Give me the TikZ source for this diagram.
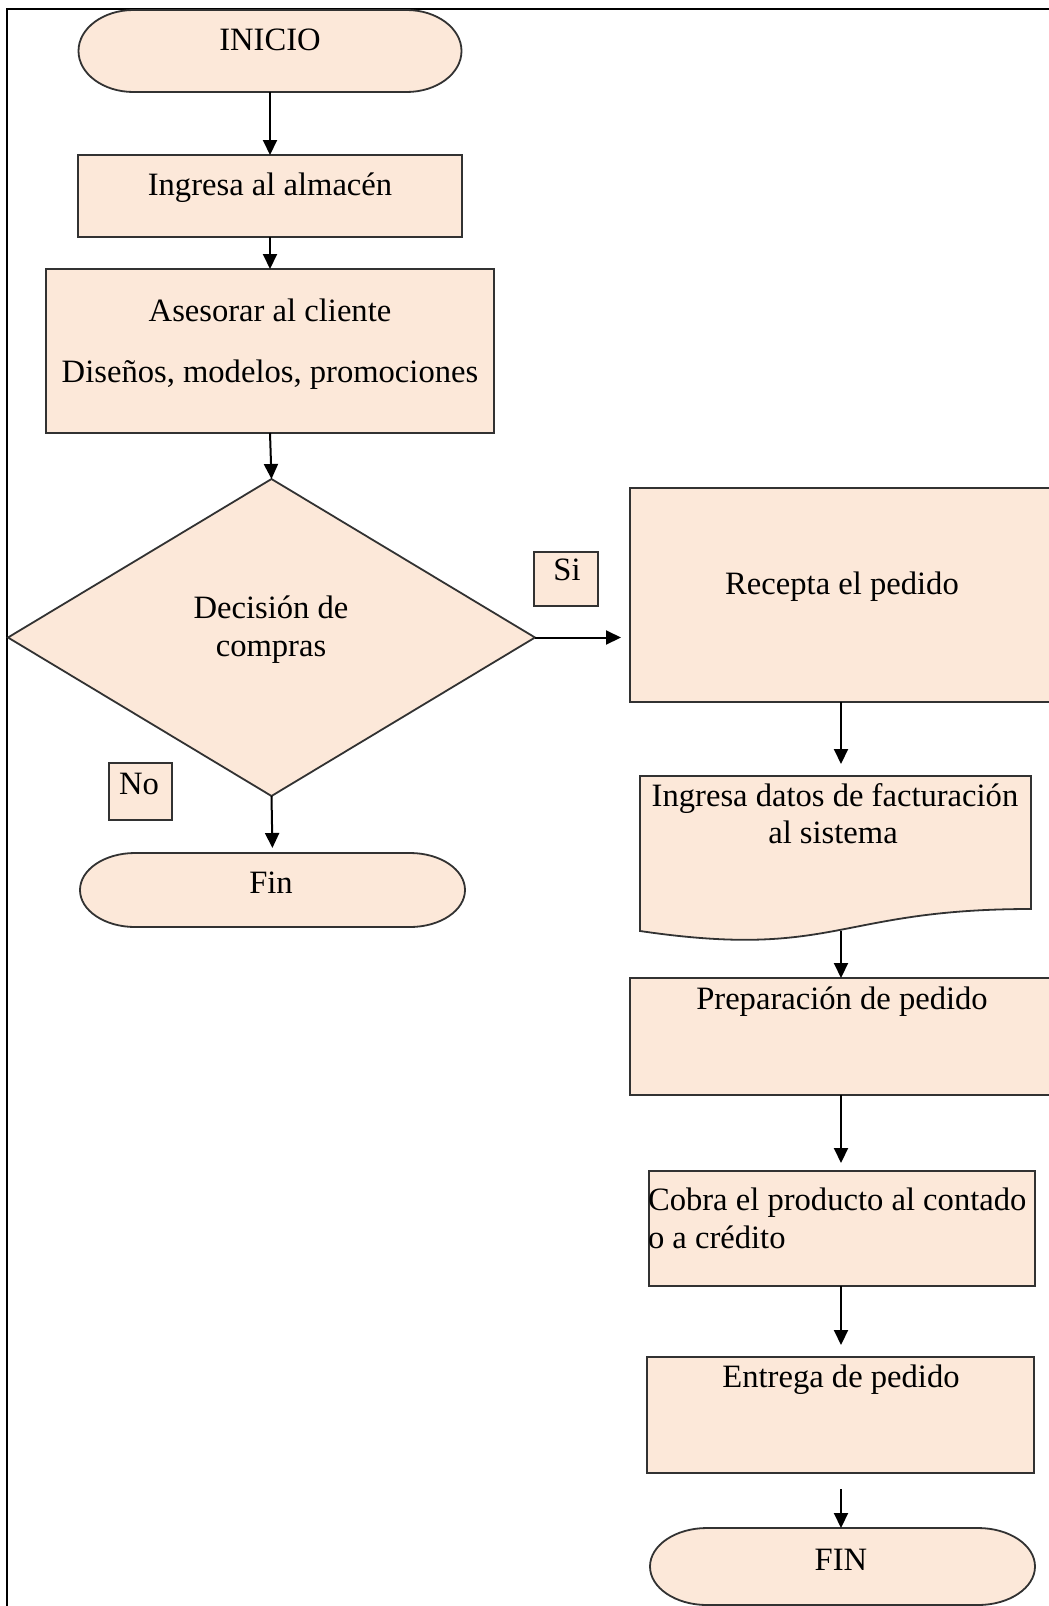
\documentclass[tikz,border=0pt]{standalone}
\usepackage{fontspec}
\setmainfont{Liberation Serif}
\usetikzlibrary{arrows.meta,shapes.geometric}
\definecolor{peach}{RGB}{252,232,217}
\definecolor{edgegray}{RGB}{50,50,50}
% stadium outline with elliptic ends around a named node
\newcommand\drawterm[3]{%
  \path[shapebase] ([xshift=#2]#1.north west) -- ([xshift=-#2]#1.north east)
    arc[start angle=90,end angle=-90,x radius=#2,y radius=#3]
    -- ([xshift=#2]#1.south west)
    arc[start angle=270,end angle=90,x radius=#2,y radius=#3] -- cycle;}
\begin{document}
\begin{tikzpicture}[x=1pt,y=-1pt,
  shapebase/.style={fill=peach,draw=edgegray,line width=1.8pt},
  anchorbox/.style={rectangle,inner sep=0pt,outer sep=0pt},
  procbox/.style={anchorbox,shapebase},
  decbox/.style={diamond,inner sep=0pt,outer sep=0pt,shapebase},
  tagbox/.style={anchorbox,shapebase,line width=1.6pt},
  txt/.style={inner sep=0pt,outer sep=0pt,font=\fontsize{32.6}{38}\selectfont,anchor=base},
  flow/.style={line width=2pt,-{Triangle[width=14pt,length=15pt]}}
]
\useasboundingbox (0,0) rectangle (1049,1606);
\clip (0,0) rectangle (1049,1606);
\fill[white] (0,0) rectangle (1049,1606);

% page frame
\draw[line width=2.6pt,line join=miter] (7,1700) -- (7,9) -- (1100,9);

% left column
\node[anchorbox,minimum width=383pt,minimum height=82pt] (inicio) at (270,51) {};
\drawterm{inicio}{55pt}{41pt}
\node[procbox,minimum width=384pt,minimum height=82pt] (ingresa) at (270,196) {};
\node[procbox,minimum width=448pt,minimum height=164pt] (asesorar) at (270,351) {};
\node[decbox,minimum width=527pt,minimum height=317pt] (decision) at (271.5,637.5) {};
\node[tagbox,minimum width=64pt,minimum height=54pt] (si) at (566,579) {};
\node[tagbox,minimum width=63pt,minimum height=57pt] (no) at (140.5,791.5) {};
\node[anchorbox,minimum width=385pt,minimum height=74pt] (fin) at (272.5,890) {};
\drawterm{fin}{55pt}{37pt}

% right column
\node[procbox,minimum width=422pt,minimum height=214pt] (recepta) at (841,595) {};
\node[anchorbox,minimum width=391pt,minimum height=155pt] (datos) at (835.5,853.5) {};
\path[shapebase] (datos.north west) -- (datos.north east) -- (1031,909)
  .. controls (835.5,909) and (835.5,959.7) .. (datos.south west) -- cycle;
\node[procbox,minimum width=422pt,minimum height=117pt] (prep) at (841,1036.5) {};
\node[procbox,minimum width=386pt,minimum height=115pt] (cobra) at (842,1228.5) {};
\node[procbox,minimum width=387pt,minimum height=116pt] (entrega) at (840.5,1415) {};
\node[anchorbox,minimum width=385pt,minimum height=77pt] (finb) at (842.5,1566.5) {};
\drawterm{finb}{57pt}{38.5pt}

% texts
\node[txt] (t-inicio) at (270,50) {INICIO};
\node[txt] (t-ingresa) at (270,195) {Ingresa al almacén};
\node[txt] (t-ases1) at (270,321) {Asesorar al cliente};
\node[txt] (t-ases2) at (270,382) {Diseños, modelos, promociones};
\node[txt] (t-dec1) at (271,618) {Decisión de};
\node[txt] (t-dec2) at (271,656) {compras};
\node[txt] (t-si) at (567,580) {Si};
\node[txt] (t-no) at (139,794) {No};
\node[txt] (t-fin) at (271,893) {Fin};
\node[txt] (t-recepta) at (842,594) {Recepta el pedido};
\node[txt] (t-datos1) at (835,806) {Ingresa datos de facturación};
\node[txt] (t-datos2) at (833,843) {al sistema};
\node[txt] (t-prep) at (842,1009) {Preparación de pedido};
\node[txt,anchor=base west] (t-cobra1) at (648,1210) {Cobra el producto al contado};
\node[txt,anchor=base west] (t-cobra2) at (648,1248) {o a crédito};
\node[txt] (t-entrega) at (841,1387) {Entrega de pedido};
\node[txt] (t-finb) at (841,1570) {FIN};

% connectors
\draw[flow] (inicio.south) -- (inicio.south |- ingresa.north);
\draw[flow] (ingresa.south) -- (ingresa.south |- asesorar.north);
\draw[flow] (asesorar.south) -- (decision.north);
\draw[flow,shorten >=9pt] (decision.east) -- (decision.east -| recepta.west);
\draw[flow,shorten >=5pt] (decision.south) -- (fin.north);
\draw[flow,shorten >=12pt] (recepta.south) -- (recepta.south |- datos.north);
\draw[flow] (prep.north |- datos.south) -- (prep.north);
\draw[flow,shorten >=8pt] (prep.south) -- (prep.south |- cobra.north);
\draw[flow,shorten >=12pt] (prep.south |- cobra.south) -- (prep.south |- entrega.north);
\draw[flow,shorten <=16pt] (prep.south |- entrega.south) -- (prep.south |- finb.north);
\end{tikzpicture}
\end{document}
